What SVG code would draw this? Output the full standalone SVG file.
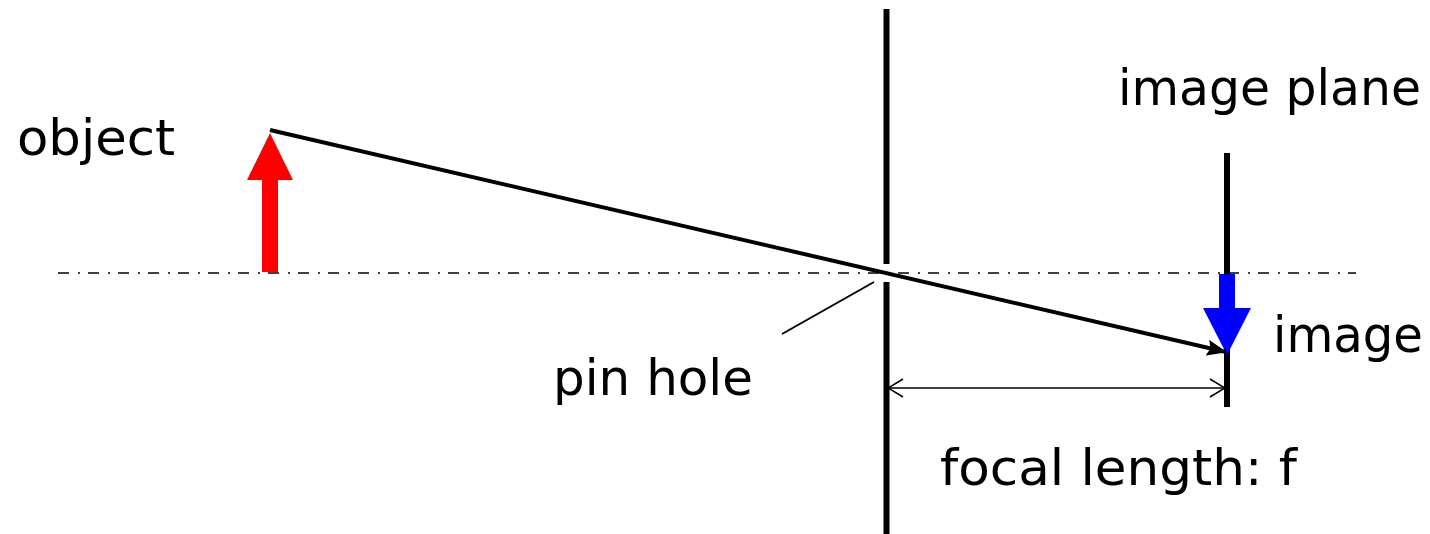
<svg xmlns="http://www.w3.org/2000/svg" width="1430" height="534" viewBox="0 0 1430 534">
  <style>
    .lbl { font-family: "DejaVu Sans", "Liberation Sans", Arial, sans-serif; font-size: 50px; fill: #000; }
    .wall { stroke: #000; stroke-width: 6; fill: none; }
    .axis { stroke: #000; stroke-width: 1.6; stroke-dasharray: 11 9 2 8; fill: none; }
    .thin { stroke: #000; stroke-width: 1.5; fill: none; }
  </style>
  <defs>
    <marker id="openArrow" viewBox="0 0 16 20" refX="16" refY="10" markerWidth="16" markerHeight="20" markerUnits="userSpaceOnUse" orient="auto-start-reverse">
      <path d="M1,1 L16,10 L1,19" fill="none" stroke="#000" stroke-width="1.5"/>
    </marker>
    <marker id="rayArrow" viewBox="0 0 20 16" refX="19" refY="8" markerWidth="20" markerHeight="16" markerUnits="userSpaceOnUse" orient="auto">
      <path d="M0,0 L20,8 L0,16 L3,8 Z" fill="#000"/>
    </marker>
  </defs>

  <g id="axis">
    <line class="axis" x1="58" y1="273" x2="1356" y2="273"/>
  </g>

  <g id="pinhole-wall">
    <line class="wall" x1="886.5" y1="9" x2="886.5" y2="264"/>
    <line class="wall" x1="886.5" y1="282" x2="886.5" y2="534"/>
  </g>

  <g id="image-plane">
    <line class="wall" x1="1227" y1="153" x2="1227" y2="407"/>
  </g>

  <g id="object">
    <polygon points="262,272 278,272 278,180 293,180 270,133 247,180 262,180" fill="#ff0000"/>
  </g>

  <g id="image">
    <polygon points="1219,274 1235,274 1235,308 1251,308 1227,355 1203,308 1219,308" fill="#0000ff"/>
  </g>

  <g id="connectors">
    <line x1="270" y1="130" x2="1226" y2="352" stroke="#000" stroke-width="4" marker-end="url(#rayArrow)"/>
    <line class="thin" x1="888" y1="388" x2="1225" y2="388" marker-start="url(#openArrow)" marker-end="url(#openArrow)"/>
    <line x1="782" y1="334" x2="874" y2="282" stroke="#000" stroke-width="2"/>
  </g>

  <g id="labels">
    <text class="lbl" x="17" y="155" textLength="158" lengthAdjust="spacingAndGlyphs">object</text>
    <text class="lbl" x="1118" y="105" textLength="303" lengthAdjust="spacingAndGlyphs">image plane</text>
    <text class="lbl" x="553" y="395" textLength="200" lengthAdjust="spacingAndGlyphs">pin hole</text>
    <text class="lbl" x="1273" y="352" textLength="150" lengthAdjust="spacingAndGlyphs">image</text>
    <text class="lbl" x="940" y="485" textLength="357" lengthAdjust="spacingAndGlyphs">focal length: f</text>
  </g>
</svg>
